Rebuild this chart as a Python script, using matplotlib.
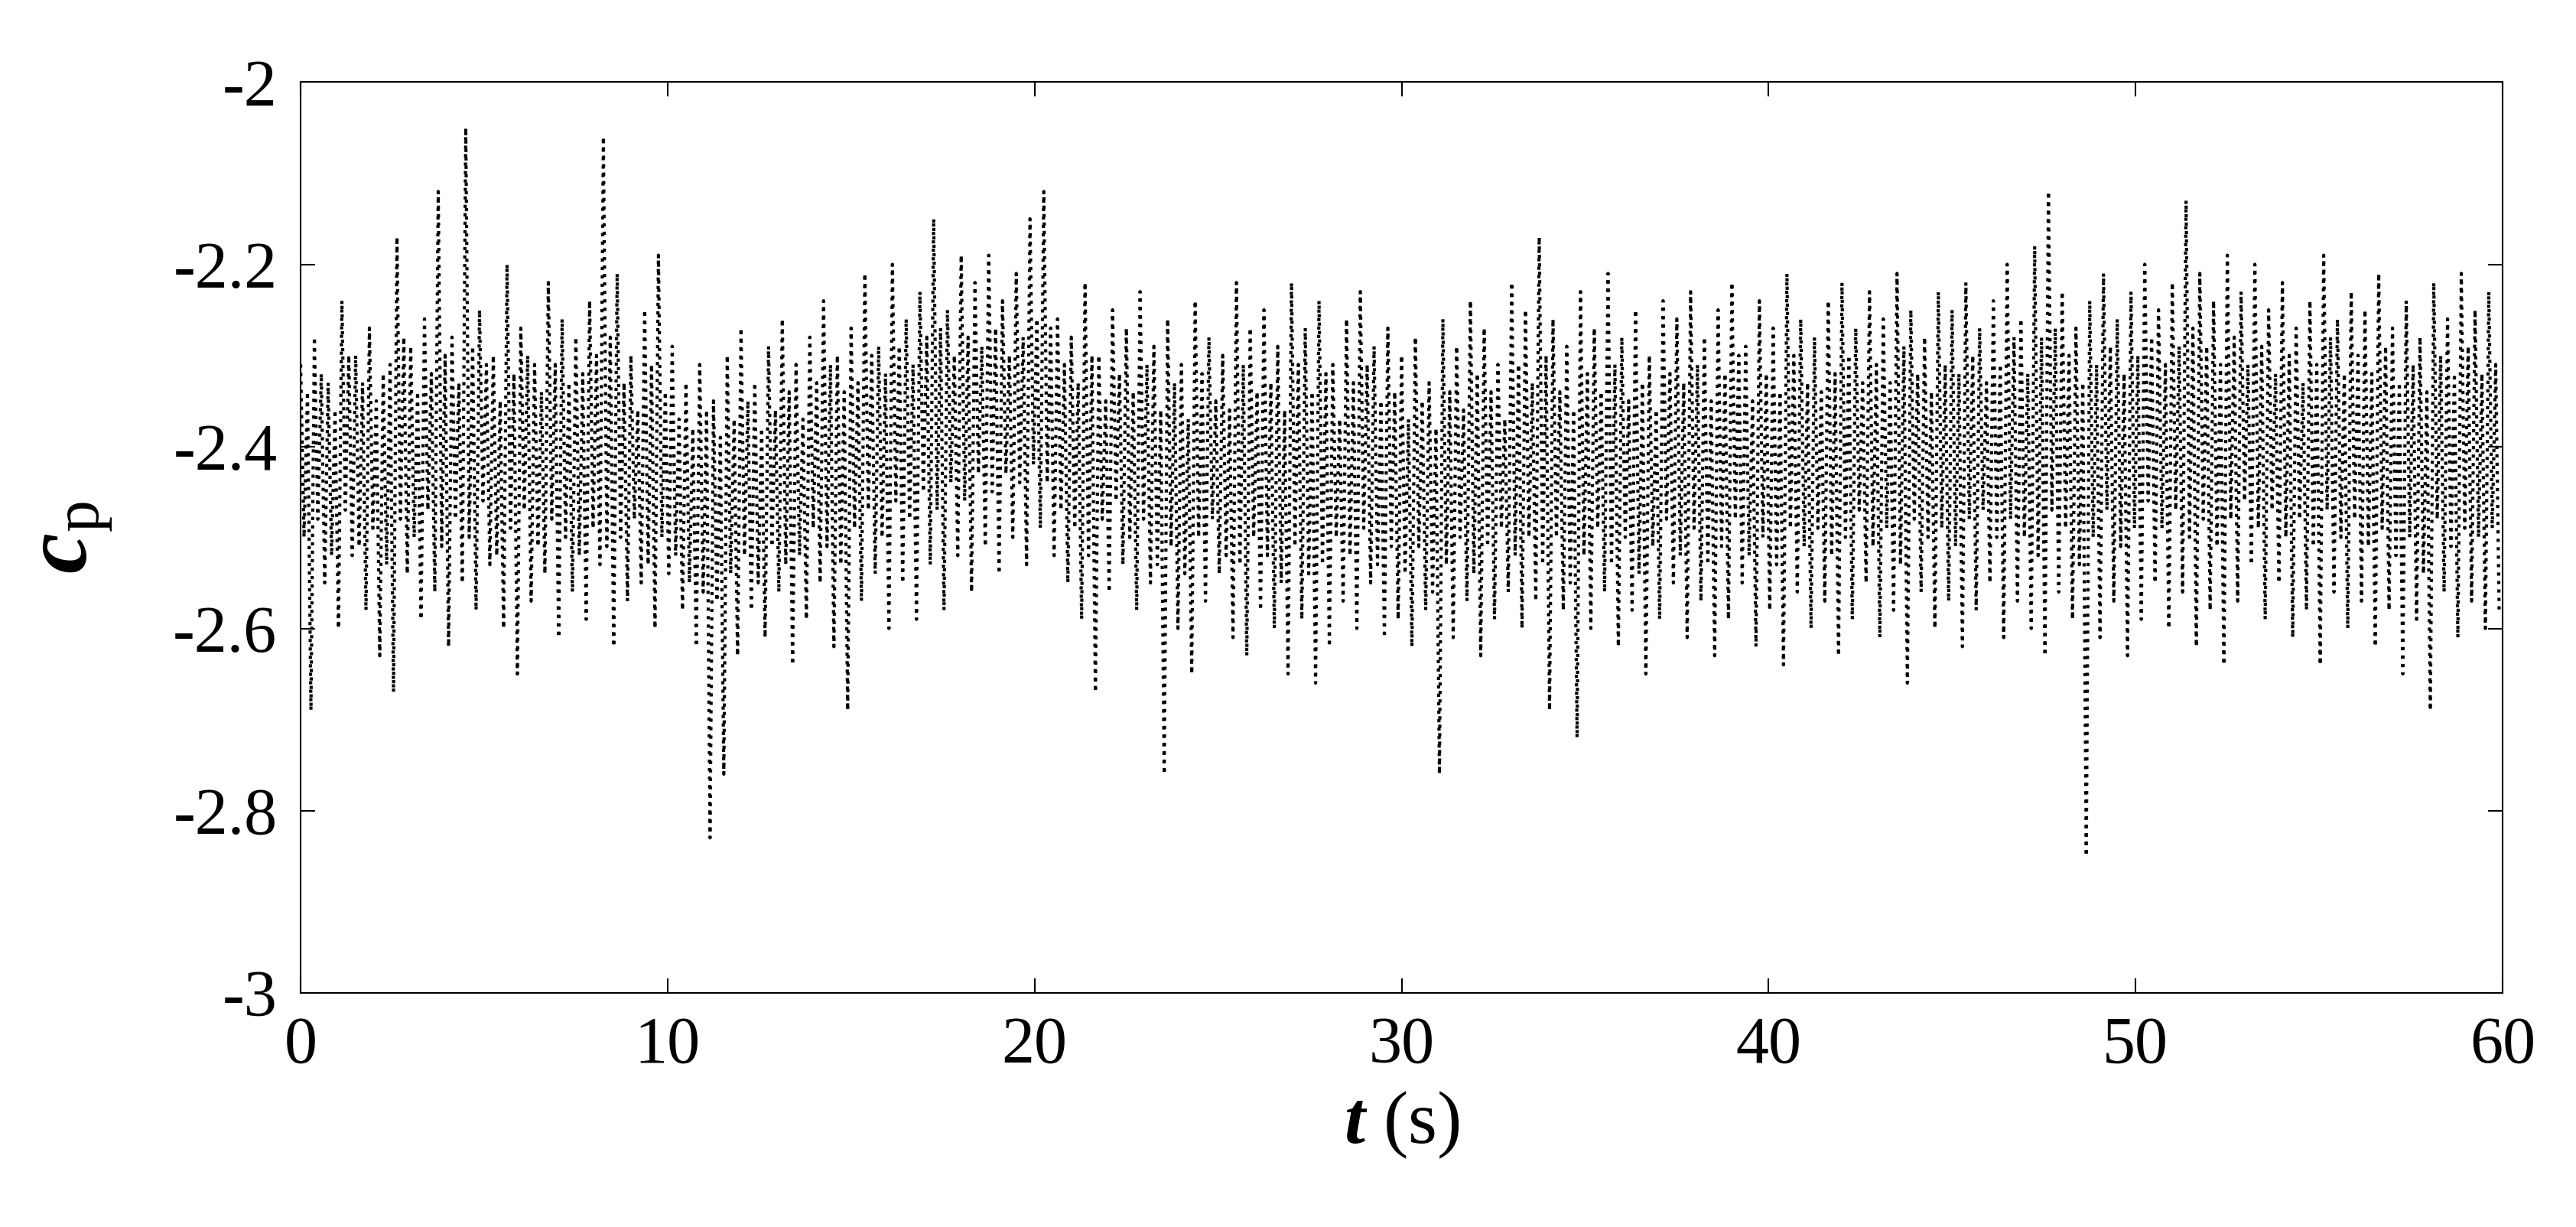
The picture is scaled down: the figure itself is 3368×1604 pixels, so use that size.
import matplotlib
matplotlib.use("Agg")
import matplotlib.pyplot as plt

peaks = [-2.31,-2.28,-2.33,-2.24,-2.30,-2.27,-2.32,-2.17,-2.29,-2.26,
-2.12,-2.28,-2.05,-2.25,-2.30,-2.20,-2.27,-2.31,-2.22,-2.26,
-2.28,-2.24,-2.06,-2.21,-2.30,-2.25,-2.19,-2.29,-2.33,-2.31,
-2.35,-2.30,-2.27,-2.33,-2.29,-2.26,-2.31,-2.28,-2.24,-2.30,
-2.27,-2.21,-2.29,-2.20,-2.26,-2.23,-2.15,-2.25,-2.19,-2.22,
-2.19,-2.24,-2.21,-2.15,-2.12,-2.26,-2.28,-2.22,-2.30,-2.25,
-2.27,-2.23,-2.29,-2.26,-2.31,-2.24,-2.28,-2.30,-2.22,-2.27,
-2.25,-2.29,-2.22,-2.27,-2.24,-2.31,-2.26,-2.23,-2.29,-2.27,
-2.30,-2.28,-2.33,-2.26,-2.29,-2.24,-2.27,-2.31,-2.22,-2.25,
-2.17,-2.26,-2.29,-2.23,-2.27,-2.21,-2.28,-2.25,-2.30,-2.24,
-2.26,-2.23,-2.28,-2.25,-2.22,-2.29,-2.24,-2.27,-2.21,-2.26,
-2.28,-2.24,-2.22,-2.27,-2.23,-2.26,-2.21,-2.25,-2.28,-2.23,
-2.25,-2.22,-2.27,-2.24,-2.20,-2.26,-2.18,-2.12,-2.23,-2.27,
-2.24,-2.21,-2.26,-2.23,-2.20,-2.25,-2.22,-2.13,-2.21,-2.24,
-2.19,-2.23,-2.20,-2.25,-2.22,-2.27,-2.24,-2.19,-2.26,-2.23,
-2.25,-2.21,-2.27,-2.24,-2.28,-2.22,-2.26,-2.21,-2.25,-2.23]

troughs = [-2.69,-2.55,-2.60,-2.52,-2.58,-2.63,-2.67,-2.54,-2.59,-2.56,
-2.62,-2.55,-2.58,-2.53,-2.60,-2.65,-2.57,-2.54,-2.61,-2.56,
-2.59,-2.53,-2.62,-2.57,-2.55,-2.60,-2.54,-2.58,-2.62,-2.83,
-2.76,-2.63,-2.58,-2.61,-2.56,-2.64,-2.59,-2.55,-2.62,-2.69,
-2.57,-2.54,-2.60,-2.55,-2.59,-2.53,-2.58,-2.52,-2.56,-2.51,
-2.54,-2.50,-2.53,-2.49,-2.52,-2.55,-2.59,-2.67,-2.56,-2.53,
-2.58,-2.55,-2.76,-2.60,-2.65,-2.57,-2.54,-2.61,-2.63,-2.58,
-2.60,-2.65,-2.59,-2.66,-2.62,-2.57,-2.60,-2.55,-2.61,-2.59,
-2.62,-2.58,-2.76,-2.61,-2.57,-2.63,-2.59,-2.56,-2.60,-2.57,
-2.69,-2.58,-2.72,-2.60,-2.56,-2.62,-2.58,-2.65,-2.59,-2.55,
-2.61,-2.57,-2.63,-2.59,-2.55,-2.62,-2.58,-2.64,-2.56,-2.60,
-2.57,-2.63,-2.59,-2.55,-2.61,-2.58,-2.66,-2.56,-2.60,-2.57,
-2.62,-2.58,-2.55,-2.61,-2.57,-2.60,-2.63,-2.56,-2.59,-2.85,
-2.61,-2.57,-2.63,-2.59,-2.55,-2.60,-2.56,-2.62,-2.58,-2.64,
-2.57,-2.53,-2.59,-2.55,-2.61,-2.58,-2.64,-2.56,-2.60,-2.57,
-2.62,-2.58,-2.65,-2.59,-2.69,-2.56,-2.61,-2.57,-2.60,-2.58]

inner_highs = [-2.34,-2.32,-2.36,-2.30,-2.33,-2.35,-2.31,-2.28,-2.34,-2.32,
-2.30,-2.33,-2.29,-2.31,-2.35,-2.32,-2.30,-2.34,-2.31,-2.33,
-2.32,-2.30,-2.28,-2.33,-2.36,-2.31,-2.34,-2.37,-2.38,-2.36,
-2.39,-2.37,-2.35,-2.38,-2.36,-2.34,-2.37,-2.33,-2.31,-2.34,
-2.33,-2.30,-2.32,-2.29,-2.31,-2.28,-2.27,-2.30,-2.28,-2.29,
-2.27,-2.30,-2.28,-2.26,-2.27,-2.31,-2.33,-2.30,-2.35,-2.32,
-2.34,-2.31,-2.36,-2.33,-2.37,-2.32,-2.35,-2.36,-2.31,-2.34,
-2.33,-2.36,-2.31,-2.34,-2.32,-2.37,-2.33,-2.31,-2.35,-2.34,
-2.37,-2.35,-2.38,-2.34,-2.36,-2.32,-2.34,-2.37,-2.31,-2.33,
-2.30,-2.34,-2.36,-2.32,-2.34,-2.31,-2.35,-2.33,-2.36,-2.32,
-2.33,-2.31,-2.35,-2.32,-2.30,-2.35,-2.32,-2.34,-2.30,-2.33,
-2.34,-2.32,-2.30,-2.33,-2.31,-2.33,-2.29,-2.32,-2.34,-2.31,
-2.32,-2.30,-2.33,-2.31,-2.28,-2.32,-2.28,-2.27,-2.30,-2.33,
-2.31,-2.29,-2.32,-2.30,-2.28,-2.31,-2.29,-2.27,-2.29,-2.31,
-2.28,-2.31,-2.29,-2.32,-2.30,-2.33,-2.31,-2.28,-2.32,-2.30,
-2.32,-2.29,-2.33,-2.31,-2.34,-2.30,-2.32,-2.29,-2.32,-2.31]

inner_lows = [-2.50,-2.48,-2.52,-2.47,-2.51,-2.49,-2.53,-2.48,-2.50,-2.47,
-2.51,-2.48,-2.50,-2.46,-2.52,-2.49,-2.47,-2.51,-2.48,-2.50,
-2.52,-2.49,-2.51,-2.50,-2.48,-2.53,-2.50,-2.52,-2.55,-2.56,
-2.57,-2.54,-2.52,-2.55,-2.51,-2.53,-2.52,-2.49,-2.51,-2.53,
-2.49,-2.47,-2.50,-2.46,-2.48,-2.45,-2.47,-2.44,-2.46,-2.43,
-2.45,-2.43,-2.44,-2.42,-2.44,-2.47,-2.49,-2.52,-2.48,-2.46,
-2.50,-2.48,-2.53,-2.51,-2.54,-2.50,-2.48,-2.52,-2.53,-2.50,
-2.52,-2.55,-2.51,-2.54,-2.53,-2.50,-2.52,-2.49,-2.53,-2.51,
-2.54,-2.51,-2.56,-2.53,-2.50,-2.54,-2.51,-2.49,-2.52,-2.50,
-2.53,-2.50,-2.55,-2.52,-2.49,-2.53,-2.50,-2.54,-2.51,-2.48,
-2.52,-2.49,-2.53,-2.51,-2.48,-2.52,-2.50,-2.53,-2.49,-2.51,
-2.49,-2.52,-2.50,-2.47,-2.51,-2.49,-2.53,-2.48,-2.50,-2.49,
-2.51,-2.48,-2.47,-2.50,-2.48,-2.50,-2.52,-2.47,-2.49,-2.53,
-2.50,-2.47,-2.51,-2.49,-2.46,-2.49,-2.47,-2.50,-2.48,-2.51,
-2.48,-2.46,-2.49,-2.47,-2.50,-2.48,-2.51,-2.47,-2.50,-2.48,
-2.51,-2.49,-2.52,-2.50,-2.54,-2.48,-2.51,-2.49,-2.50,-2.49]

duration = 60.0
n = len(peaks)
dt = duration / n
t = []
y = []
for i in range(n):
    t.append(i * dt); y.append(peaks[i])
    t.append(i * dt + dt * 0.25); y.append(inner_lows[i])
    t.append(i * dt + dt * 0.5); y.append(inner_highs[i])
    t.append(i * dt + dt * 0.75); y.append(troughs[i])

xticks = [0, 10, 20, 30, 40, 50, 60]
yticks = [-3, -2.8, -2.6, -2.4, -2.2, -2]
ylabels = ["-3", "-2.8", "-2.6", "-2.4", "-2.2", "-2"]

plt.rcParams['font.family'] = ['Liberation Serif', 'DejaVu Serif']
plt.rcParams['mathtext.fontset'] = 'custom'
plt.rcParams['mathtext.rm'] = 'Liberation Serif'
plt.rcParams['mathtext.it'] = 'Liberation Serif:italic'
plt.rcParams['mathtext.bf'] = 'Liberation Serif:bold'
plt.rcParams['mathtext.bfit'] = 'Liberation Serif:bold:italic'

fig = plt.figure(figsize=(33.68, 16.04), dpi=100)
ax = fig.add_axes([0.1167, 0.191, 0.8548, 0.742])
ax.plot(t, y, color='black', linestyle=':', linewidth=3.0)
ax.set_xlim(0, 60)
ax.set_ylim(-3, -2)
ax.set_xticks(xticks)
ax.set_xticklabels([str(v) for v in xticks])
ax.set_yticks(yticks)
ax.set_yticklabels(ylabels)
ax.tick_params(direction='in', length=14, width=1.5, labelsize=62, top=True, right=True, pad=22)
for s in ax.spines.values():
    s.set_linewidth(1.5)
ax.set_xlabel(r'$\boldsymbol{t}$ (s)', fontsize=70, labelpad=12)
ax.set_ylabel(r'$\mathbfit{c}_{\mathrm{p}}$', fontsize=86, labelpad=55)
fig.savefig('out.png', dpi=100)
